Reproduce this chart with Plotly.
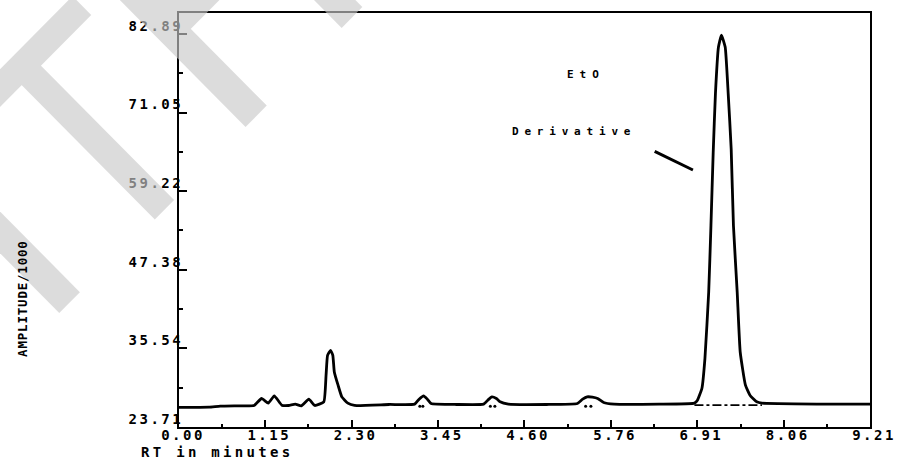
import plotly.graph_objects as go

# ---- chromatogram data (retention time in minutes, amplitude / 1000) ----
rt = [0.00, 0.40, 0.55, 0.80, 1.00, 1.10, 1.19, 1.27, 1.37, 1.46, 1.55, 1.63,
      1.73, 1.81, 1.93, 1.96, 1.98, 2.02, 2.05, 2.07, 2.12, 2.17, 2.25, 2.34,
      2.80, 3.14, 3.20, 3.26, 3.31, 3.36, 3.70, 4.06, 4.12, 4.17, 4.23, 4.28,
      4.39, 4.90, 5.31, 5.38, 5.44, 5.51, 5.58, 5.66, 5.80, 6.40, 6.87, 6.91,
      6.97, 7.01, 7.06, 7.09, 7.12, 7.15, 7.19, 7.23, 7.28, 7.32, 7.36, 7.39,
      7.44, 7.48, 7.55, 7.61, 7.70, 7.77, 8.50, 9.21]
amplitude = [26.65, 26.70, 26.85, 26.90, 26.95, 28.00, 27.30, 28.40, 27.00, 26.95, 27.15, 26.90,
             27.90, 26.95, 27.50, 31.50, 34.50, 35.25, 34.50, 32.00, 30.00, 28.25, 27.30, 26.95,
             27.10, 27.15, 27.90, 28.40, 27.90, 27.25, 27.10, 27.15, 27.80, 28.25, 28.00, 27.50,
             27.15, 27.10, 27.25, 27.90, 28.25, 28.20, 28.00, 27.40, 27.15, 27.15, 27.30, 27.75,
             29.55, 34.05, 44.00, 54.00, 65.00, 73.90, 80.90, 82.70, 80.90, 73.90, 65.50, 54.00,
             44.00, 35.00, 30.00, 28.50, 27.50, 27.30, 27.15, 27.15]

# integration baseline under the EtO derivative peak
base_rt = [6.87, 7.77]
base_amp = [27.0, 27.0]

# peak-apex markers printed under the small peaks
mark_rt = [3.21, 3.25, 4.15, 4.21, 5.42, 5.49]
mark_amp = [26.85, 26.85, 26.85, 26.85, 26.85, 26.85]

# pointer stroke next to the label
pointer_rt = [6.34, 6.85]
pointer_amp = [65.2, 62.4]

# axes
x_ticks = [0.00, 1.15, 2.30, 3.45, 4.60, 5.76, 6.91, 8.06, 9.21]
x_labels = ["0.00", "1.15", "2.30", "3.45", "4.60", "5.76", "6.91", "8.06", "9.21"]
y_ticks = [23.71, 35.54, 47.38, 59.22, 71.05, 82.89]
y_labels = ["23.71", "35.54", "47.38", "59.22", "71.05", "82.89"]
x_range = [0, 9.21]
y_range = [23.71, 86.03]

x_minor = [(a + b) / 2 for a, b in zip(x_ticks[:-1], x_ticks[1:])]
y_minor = [(a + b) / 2 for a, b in zip(y_ticks[:-1], y_ticks[1:])]

W, H = 907, 464
L, R, T, B = 179, 27, 11, 37
PW, PH = W - L - R, H - T - B
MONO = "DejaVu Sans Mono"


def spaced(s, sp):
    return f'<span style="letter-spacing:{sp}px">{s}</span>'


def px(x, y):
    """pixel position -> paper coordinates"""
    return (x - L) / PW, (H - B - y) / PH


def path(points):
    return "M " + " L ".join(f"{px(x, y)[0]:.4f},{px(x, y)[1]:.4f}" for x, y in points) + " Z"


fig = go.Figure()

fig.add_trace(go.Scatter(x=rt, y=amplitude, mode="lines",
                         line=dict(color="black", width=2.8, shape="spline", smoothing=0.4),
                         hoverinfo="skip", showlegend=False))
fig.add_trace(go.Scatter(x=base_rt, y=base_amp, mode="lines",
                         line=dict(color="black", width=1.6, dash="dashdot"),
                         hoverinfo="skip", showlegend=False))
fig.add_trace(go.Scatter(x=mark_rt, y=mark_amp, mode="markers",
                         marker=dict(color="black", size=3),
                         hoverinfo="skip", showlegend=False))
fig.add_trace(go.Scatter(x=pointer_rt, y=pointer_amp, mode="lines",
                         line=dict(color="black", width=3),
                         hoverinfo="skip", showlegend=False))

tick_font = dict(family=MONO, size=14, color="black", weight="bold")

fig.update_xaxes(range=x_range, tickvals=x_ticks,
                 ticktext=[spaced(t, 2.5) for t in x_labels],
                 ticks="inside", ticklen=7, tickwidth=2, tickcolor="black",
                 showline=True, linecolor="black", linewidth=2, mirror=True,
                 showgrid=False, zeroline=False, tickfont=tick_font,
                 ticklabelshift=4, ticklabelstandoff=-6,
                 minor=dict(tickvals=x_minor, ticks="inside", ticklen=3,
                            tickwidth=2, tickcolor="black"))
fig.update_yaxes(range=y_range, tickvals=y_ticks,
                 ticktext=[spaced(t, 2.5) for t in y_labels],
                 ticks="inside", ticklen=8, tickwidth=2, tickcolor="black",
                 showline=True, linecolor="black", linewidth=2, mirror=True,
                 showgrid=False, zeroline=False, tickfont=tick_font,
                 ticklabelshift=-8, ticklabelstandoff=-9,
                 minor=dict(tickvals=y_minor, ticks="inside", ticklen=4,
                            tickwidth=2, tickcolor="black"))

annotations = [
    dict(x=5.43, y=76.7, xref="x", yref="y", text=spaced("EtO", 6),
         xanchor="center", yanchor="middle", showarrow=False,
         font=dict(family=MONO, size=11, color="black", weight="bold")),
    dict(x=5.26, y=68.2, xref="x", yref="y", text=spaced("Derivative", 5.8),
         xanchor="center", yanchor="middle", showarrow=False,
         font=dict(family=MONO, size=11, color="black", weight="bold")),
    dict(x=px(20, 298)[0], y=px(20, 298)[1], xref="paper", yref="paper",
         xanchor="center", yanchor="middle",
         text=spaced("AMPLITUDE/1000", 0.8), textangle=-90, showarrow=False,
         font=dict(family=MONO, size=12.5, color="black", weight="bold")),
    dict(x=px(138, 452)[0], y=px(138, 452)[1], xref="paper", yref="paper",
         xanchor="left", yanchor="middle", text=spaced("RT in minutes", 3.3),
         showarrow=False,
         font=dict(family=MONO, size=14, color="black", weight="bold")),
]

# light diagonal watermark bands laid over the page
wm_paths = [
    [(-42.5, 107.5), (71, -6), (90, 13), (-23.5, 126.5)],
    [(30, 55), (174, 199), (154.5, 218.5), (10.5, 74.5)],
    [(101, -20), (144, -20), (268, 104), (246.5, 125.5)],
    [(150, 10), (250, -90), (286, -68), (179, 39)],
    [(288, -30), (330, -30), (365, 5), (344, 26)],
    [(-60, 153), (78.5, 291.5), (57.5, 312.5), (-60, 195)],
]
wm_style = dict(type="path", xref="paper", yref="paper", layer="above",
                fillcolor="rgb(200,200,200)", fillrule="nonzero",
                opacity=0.64, line=dict(width=0))
shapes = [
    dict(path=" ".join(path(p) for p in wm_paths[0:2]), **wm_style),
    dict(path=" ".join(path(p) for p in wm_paths[2:4]), **wm_style),
    dict(path=path(wm_paths[4]), **wm_style),
    dict(path=path(wm_paths[5]), **wm_style),
]

fig.update_layout(width=W, height=H, margin=dict(l=L, r=R, t=T, b=B),
                  paper_bgcolor="white", plot_bgcolor="white",
                  annotations=annotations, shapes=shapes, showlegend=False)

fig.write_html("out.html", config={"displayModeBar": False})
